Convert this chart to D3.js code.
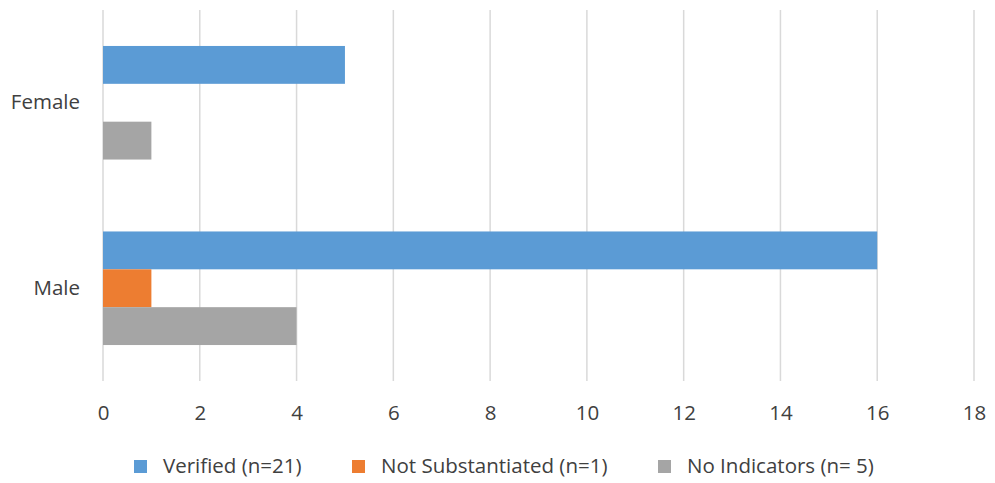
<!DOCTYPE html>
<html><head><meta charset="utf-8">
<script src="https://cdn.jsdelivr.net/npm/d3@7"></script>
<style>body{margin:0;background:#fff}svg{display:block}text{font-family:"Open Sans",sans-serif;fill:#404040}</style>
</head><body><svg id="c" width="995" height="483"></svg>
<script>
const categories = ["Female", "Male"];
const seriesNames = ["Verified (n=21)", "Not Substantiated (n=1)", "No Indicators (n= 5)"];
const verified = [5, 16];
const notSubstantiated = [0, 1];
const noIndicators = [1, 4];
const xTicks = [0, 2, 4, 6, 8, 10, 12, 14, 16, 18];
const colors = ["#5B9BD5", "#ED7D31", "#A5A5A5"];

(function(){
const values = [verified, notSubstantiated, noIndicators];
const svg = d3.select("#c");
const mLeft = 103, mRight = 974, mTop = 10, mBottom = 381;
const fs = 20.5;
const x = d3.scaleLinear().domain([0, 18]).range([mLeft, mRight]);
const y = d3.scaleBand().domain(categories).range([mTop, mBottom]).paddingInner(0).paddingOuter(0);
const inner = d3.scaleBand().domain(seriesNames).range([0, y.bandwidth()]).paddingInner(0).paddingOuter(0.95);

svg.append("g").selectAll("line").data(xTicks).join("line")
  .attr("x1", d => x(d)).attr("x2", d => x(d)).attr("y1", mTop).attr("y2", mBottom)
  .attr("stroke", "#d9d9d9").attr("stroke-width", 1.5);

const g = svg.append("g");
categories.forEach((c, ci) => {
  seriesNames.forEach((s, si) => {
    const v = values[si][ci];
    if (v <= 0) return;
    g.append("rect").attr("x", x(0)).attr("y", y(c) + inner(s))
      .attr("width", x(v) - x(0)).attr("height", inner.bandwidth()).attr("fill", colors[si]);
  });
});

const xa = d3.axisBottom(x).tickValues(xTicks).tickSize(0).tickPadding(0);
const xg = svg.append("g").attr("transform", `translate(0,413)`).call(xa);
xg.select(".domain").remove();
xg.selectAll("text").attr("font-size", fs).attr("fill", "#404040").attr("font-family", "Open Sans").attr("y", 0).attr("dy", "0.35em");

const ya = d3.axisLeft(y).tickSize(0).tickPadding(0);
const yg = svg.append("g").attr("transform", `translate(80,0)`).call(ya);
yg.select(".domain").remove();
yg.selectAll("text").attr("font-size", fs).attr("fill", "#404040").attr("font-family", "Open Sans");

const legX = [134, 352, 658];
const lg = svg.append("g");
seriesNames.forEach((s, i) => {
  lg.append("rect").attr("x", legX[i]).attr("y", 460).attr("width", 13).attr("height", 13).attr("fill", colors[i]);
  lg.append("text").attr("x", legX[i] + 29).attr("y", 466).attr("dy", "0.35em")
    .attr("font-size", fs).text(s);
});
})();
</script></body></html>
